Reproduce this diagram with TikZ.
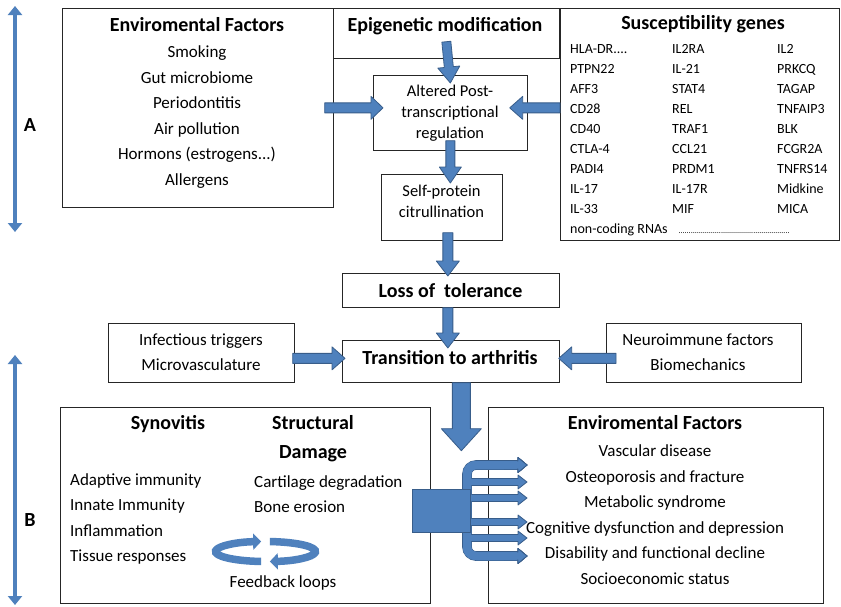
\documentclass[tikz,border=0pt]{standalone}
\usepackage{fontspec}
\setmainfont{Carlito}
\usetikzlibrary{calc, arrows.meta, positioning}

\definecolor{arrowblue}{HTML}{4F81BD}
\definecolor{arrowedge}{HTML}{385D8A}

% block arrow: start, end, half shaft, half head, head length
\newcommand{\blockarrow}[5]{%
  \coordinate (ba-s) at #1;
  \coordinate (ba-e) at #2;
  \coordinate (ba-n) at ($(ba-e)!#5!(ba-s)$);
  \path[arrowshape] ($(ba-s)!#3!90:(ba-e)$) -- ($(ba-n)!#3!-90:(ba-s)$)
    -- ($(ba-n)!#4!-90:(ba-s)$) -- (ba-e) -- ($(ba-n)!#4!90:(ba-s)$)
    -- ($(ba-n)!#3!90:(ba-s)$) -- ($(ba-s)!#3!-90:(ba-e)$) -- cycle;
}

\begin{document}
\begin{tikzpicture}[
    x=1pt, y=-1pt,
    boxed/.style={draw=black!85, line width=0.7pt, rectangle, inner sep=0pt, anchor=north west},
    titletext/.style={font=\fontsize{20}{29}\selectfont\bfseries, inner sep=0pt, align=center},
    listtext/.style={font=\fontsize{17}{25.5}\selectfont, inner sep=0pt, align=center},
    arrowshape/.style={fill=arrowblue, draw=arrowedge, line width=0.8pt, line join=round},
    dblarrow/.style={arrowblue, line width=4pt, {Triangle[width=14pt,length=9pt]}-{Triangle[width=14pt,length=9pt]}},
    loopline/.style={arrowblue, line width=7.5pt, -{Triangle[width=16pt,length=8pt]}}
]
   \path[use as bounding box, fill=white] (0,0) rectangle (841,606);

   % Boxes
   \node[boxed, minimum width=271pt, minimum height=199pt] (env) at (62,8) {};
   \node[boxed, minimum width=226pt, minimum height=50pt] (epi) at (333,8) {};
   \node[boxed, minimum width=279pt, minimum height=232pt] (sus) at (560,8) {};
   \node[boxed, minimum width=154pt, minimum height=75pt] (alt) at (373,75) {};
   \node[boxed, minimum width=121pt, minimum height=66pt] (self) at (381,174) {};
   \node[boxed, minimum width=217pt, minimum height=34pt] (loss) at (342,273) {};
   \node[boxed, minimum width=217pt, minimum height=42pt] (trans) at (342,340) {};
   \node[boxed, minimum width=186pt, minimum height=59pt] (inf) at (108,323) {};
   \node[boxed, minimum width=195pt, minimum height=59pt] (neuro) at (606,323) {};
   \node[boxed, minimum width=370pt, minimum height=196pt] (syn) at (60,407) {};
   \node[boxed, minimum width=335pt, minimum height=196pt] (comor) at (488,407) {};

   % Texts
   \node[titletext] (envtitle) at (197,25) {Enviromental Factors};
   \node[listtext] (envlist) at (197,117) {Smoking\\Gut microbiome\\Periodontitis\\Air pollution\\Hormons (estrogens...)\\Allergens};
   \node[titletext] (epititle) at (445,26) {Epigenetic modification};
   \node[titletext] (sustitle) at (703,24) {Susceptibility genes};
   \node[anchor=west, inner sep=0pt, font=\fontsize{14}{20}\selectfont] (genes) at (570,139) {%
     \setlength{\tabcolsep}{0pt}%
     \begin{tabular}{@{}p{102pt}p{105pt}l@{}}
       HLA-DR.... & IL2RA & IL2\\
       PTPN22 & IL-21 & PRKCQ\\
       AFF3 & STAT4 & TAGAP\\
       CD28 & REL & TNFAIP3\\
       CD40 & TRAF1 & BLK\\
       CTLA-4 & CCL21 & FCGR2A\\
       PADI4 & PRDM1 & TNFRS14\\
       IL-17 & IL-17R & Midkine\\
       IL-33 & MIF & MICA\\
       \multicolumn{3}{@{}l}{non-coding RNAs\hspace{11pt}{\fontsize{8}{8}\selectfont .......................................................}}
     \end{tabular}};
   \node[listtext, font=\fontsize{16.5}{21}\selectfont] (alttext) at (450,113) {Altered Post-\\transcriptional\\regulation};
   \node[listtext, font=\fontsize{16.5}{21}\selectfont] (selftext) at (441.5,201.5) {Self-protein\\citrullination};
   \node[titletext] (losstitle) at (450.5,291) {Loss of\ \ tolerance};
   \node[titletext] (transtitle) at (450,358) {Transition to arthritis};
   \node[listtext, font=\fontsize{17}{25}\selectfont] (inftext) at (201,352.5) {Infectious triggers\\Microvasculature};
   \node[listtext, font=\fontsize{17}{25}\selectfont] (neurotext) at (698,352.5) {Neuroimmune factors\\Biomechanics};

   \node[titletext] (syntitle) at (168,424) {Synovitis};
   \node[titletext] (damtitle) at (313,438.5) {Structural\\Damage};
   \node[listtext, align=left, anchor=west] (synlist) at (70,519) {Adaptive immunity\\Innate Immunity\\Inflammation\\Tissue responses};
   \node[listtext, align=left, anchor=west] (damlist) at (254,494) {Cartilage degradation\\Bone erosion};
   \node[listtext] (fbtext) at (283,583) {Feedback loops};

   \node[titletext] (comortitle) at (655,423) {Enviromental Factors};
   \node[listtext] (comorlist) at (655,514.5) {Vascular disease\\Osteoporosis and fracture\\Metabolic syndrome\\Cognitive dysfunction and depression\\Disability and functional decline\\Socioeconomic status};

   % Phases
   \node[titletext] (labA) at (30,125) {A};
   \node[titletext] (labB) at (30,520) {B};
   \coordinate (atop) at (15,6);
   \coordinate (abot) at (15,232);
   \coordinate (btop) at (15,355);
   \coordinate (bbot) at (15,605);
   \draw[dblarrow] (atop) -- (abot);
   \draw[dblarrow] (btop) -- (bbot);

   % Block arrows
   \blockarrow{([yshift=17pt]epi.south)}{([yshift=-8pt]alt.north)}{4.5pt}{11pt}{16pt}
   \blockarrow{([xshift=-9pt]env.east)}{([xshift=10pt]alt.west |- env.east)}{5pt}{11.5pt}{12pt}
   \blockarrow{(sus.west |- env.east)}{([xshift=-18pt]alt.east |- env.east)}{5pt}{11.5pt}{13pt}
   \blockarrow{([yshift=10pt]alt.south)}{([xshift=8.5pt,yshift=-9pt]self.north)}{4.5pt}{11pt}{16pt}
   \blockarrow{([xshift=6pt,yshift=8pt]self.south)}{([xshift=-3pt,yshift=-3pt]loss.north)}{5pt}{11.5pt}{15pt}
   \blockarrow{([xshift=-3pt]loss.south)}{([xshift=-3pt,yshift=-8pt]trans.north)}{5pt}{11.5pt}{15pt}
   \blockarrow{($(inf.east)+(-2,5.5)$)}{($(trans.west)+(3,-3)$)}{5pt}{11.5pt}{13pt}
   \blockarrow{($(neuro.west)+(10,5.5)$)}{($(trans.east)+(-1,-3)$)}{5pt}{11.5pt}{13pt}
   \coordinate (bigtip) at ($(trans.south)+(10.5,68)$);
   \blockarrow{($(trans.south)+(10.5,0)$)}{(bigtip)}{9pt}{20pt}{22pt}

   % Fan of outcomes
   \draw[arrowedge, line width=9.6pt, rounded corners=9pt] (517,465) -- (467,465) -- (467,556) -- (517,556);
   \foreach \yy in {482,498,522,538}
     \blockarrow{(467,\yy)}{(527,\yy)}{3.5pt}{7pt}{9pt}
   \blockarrow{(505,465)}{(527,465)}{4pt}{7.5pt}{9pt}
   \blockarrow{(505,556)}{(527,556)}{4pt}{7.5pt}{9pt}
   \draw[arrowblue, line width=8pt, rounded corners=9pt] (517,465) -- (467,465) -- (467,556) -- (517,556);
   \node[fill=arrowblue, draw=arrowedge, line width=0.8pt, minimum width=58pt, minimum height=43pt, inner sep=0pt, anchor=north west] (fanbox) at (412,489) {};

   % Feedback loops
   \coordinate (fbc) at (265.5,551.5);
   \draw[loopline] ($(fbc)+(265:50pt and 10pt)$) arc[start angle=265, end angle=95, x radius=50pt, y radius=10pt];
   \draw[loopline] ($(fbc)+(85:50pt and 10pt)$) arc[start angle=85, end angle=-85, x radius=50pt, y radius=10pt];
\end{tikzpicture}
\end{document}
